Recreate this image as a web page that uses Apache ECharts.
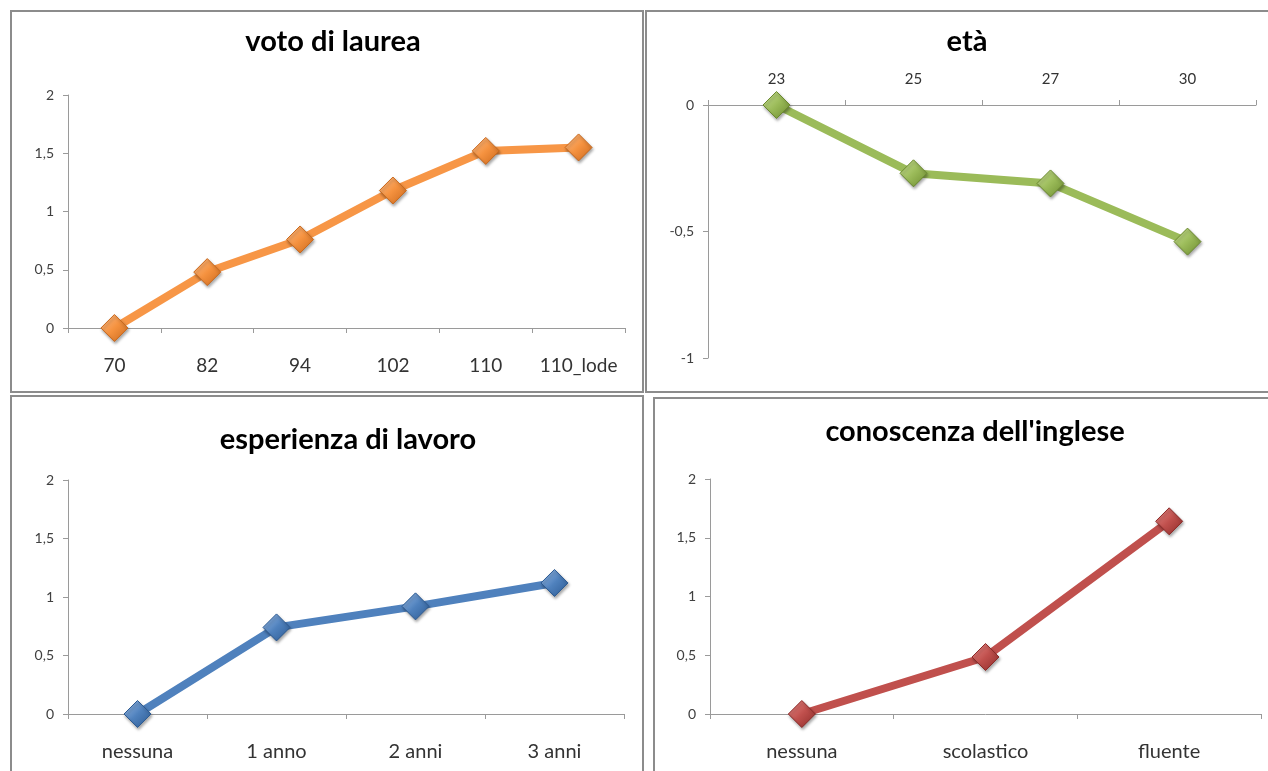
<!DOCTYPE html>
<html>
<head>
<meta charset="utf-8">
<title>Effetti delle variabili</title>
<script src="https://cdn.jsdelivr.net/npm/echarts@6/dist/echarts.min.js"></script>
<style>
  html, body { margin: 0; padding: 0; background: #ffffff; }
  #chart { width: 1268px; height: 771px; }
</style>
</head>
<body>
<div id="chart"></div>
<script>
// ---- data ----
const votoCategories = ['70', '82', '94', '102', '110', '110_lode'];
const votoValues = [0, 0.48, 0.76, 1.18, 1.52, 1.55];

const etaCategories = ['23', '25', '27', '30'];
const etaValues = [0, -0.27, -0.31, -0.54];

const esperienzaCategories = ['nessuna', '1 anno', '2 anni', '3 anni'];
const esperienzaValues = [0, 0.74, 0.92, 1.12];

const ingleseCategories = ['nessuna', 'scolastico', 'fluente'];
const ingleseValues = [0, 0.485, 1.64];

const titles = ['voto di laurea', 'età', 'esperienza di lavoro', "conoscenza dell'inglese"];

// ---- styling helpers ----
const FONT = 'Lato, "Open Sans", "Noto Sans", sans-serif';
const AXIS_GRAY = '#9a9a9a';
const fmt = v => String(v).replace('.', ',');

function diamondStyle(light, mid, dark) {
  return {
    color: new echarts.graphic.LinearGradient(0, 0, 1, 1, [
      { offset: 0, color: light },
      { offset: 0.5, color: mid },
      { offset: 1, color: dark }
    ]),
    borderColor: dark,
    borderWidth: 1,
    shadowColor: 'rgba(0,0,0,0.35)',
    shadowBlur: 3,
    shadowOffsetX: 1,
    shadowOffsetY: 2
  };
}

function lineSeries(idx, data, lineColor, marker) {
  return {
    type: 'line',
    xAxisIndex: idx,
    yAxisIndex: idx,
    data: data,
    symbol: 'diamond',
    symbolSize: 27,
    lineStyle: { color: lineColor, width: 8 },
    itemStyle: marker,
    z: 3,
    animation: false
  };
}

function catAxis(idx, cats, labelSize, labelMargin, extra) {
  return Object.assign({
    type: 'category',
    gridIndex: idx,
    data: cats,
    boundaryGap: true,
    axisLine: { lineStyle: { color: AXIS_GRAY, width: 1 } },
    axisTick: { show: true, length: 5, lineStyle: { color: AXIS_GRAY } },
    axisLabel: {
      interval: 0,
      hideOverlap: false,
      color: '#333',
      fontFamily: FONT,
      fontSize: labelSize,
      margin: labelMargin
    },
    splitLine: { show: false }
  }, extra || {});
}

function valAxis(idx, min, max) {
  return {
    type: 'value',
    gridIndex: idx,
    min: min,
    max: max,
    interval: 0.5,
    axisLine: { show: true, lineStyle: { color: AXIS_GRAY, width: 1 } },
    axisTick: { show: true, length: 5, lineStyle: { color: AXIS_GRAY } },
    axisLabel: { color: '#404040', fontFamily: FONT, fontSize: 14, margin: 14, formatter: fmt },
    splitLine: { show: false }
  };
}

function title(text, cx, top) {
  return {
    text: text,
    left: cx,
    top: top,
    textAlign: 'center',
    textStyle: { fontFamily: FONT, fontSize: 29, fontWeight: 'bold', color: '#000' }
  };
}

function panel(x, y, w, h) {
  return {
    type: 'rect',
    shape: { x: x, y: y, width: w, height: h },
    style: { fill: 'none', stroke: '#8c8c8c', lineWidth: 2 },
    silent: true
  };
}

const chart = echarts.init(document.getElementById('chart'), null, { renderer: 'canvas' });

chart.setOption({
  backgroundColor: '#ffffff',
  animation: false,
  title: [
    title(titles[0], 328, 22),
    title(titles[1], 962, 22),
    title(titles[2], 343, 420),
    title(titles[3], 970, 412)
  ],
  graphic: [
    panel(11, 11, 632, 381),
    panel(646, 11, 630, 381),
    panel(11, 396, 632, 380),
    panel(654, 398, 622, 380)
  ],
  grid: [
    { left: 68, top: 95, width: 557, height: 233 },
    { left: 708, top: 105, width: 548, height: 253 },
    { left: 68, top: 480, width: 556, height: 234 },
    { left: 710, top: 479, width: 551, height: 235 }
  ],
  xAxis: [
    catAxis(0, votoCategories, 19, 28),
    catAxis(1, etaCategories, 15, 18, { position: 'top' }),
    catAxis(2, esperienzaCategories, 20, 28),
    catAxis(3, ingleseCategories, 20, 28)
  ],
  yAxis: [
    valAxis(0, 0, 2),
    valAxis(1, -1, 0),
    valAxis(2, 0, 2),
    valAxis(3, 0, 2)
  ],
  series: [
    lineSeries(0, votoValues, '#F79646', diamondStyle('#fcc08f', '#f5923f', '#c9681c')),
    lineSeries(1, etaValues, '#9BBB59', diamondStyle('#cde39a', '#9bbb59', '#6b8a2e')),
    lineSeries(2, esperienzaValues, '#4F81BD', diamondStyle('#9fc0ea', '#4f81bd', '#2c5a92')),
    lineSeries(3, ingleseValues, '#C0504D', diamondStyle('#ec8e8b', '#c0504d', '#8c2a28'))
  ]
});
</script>
</body>
</html>
